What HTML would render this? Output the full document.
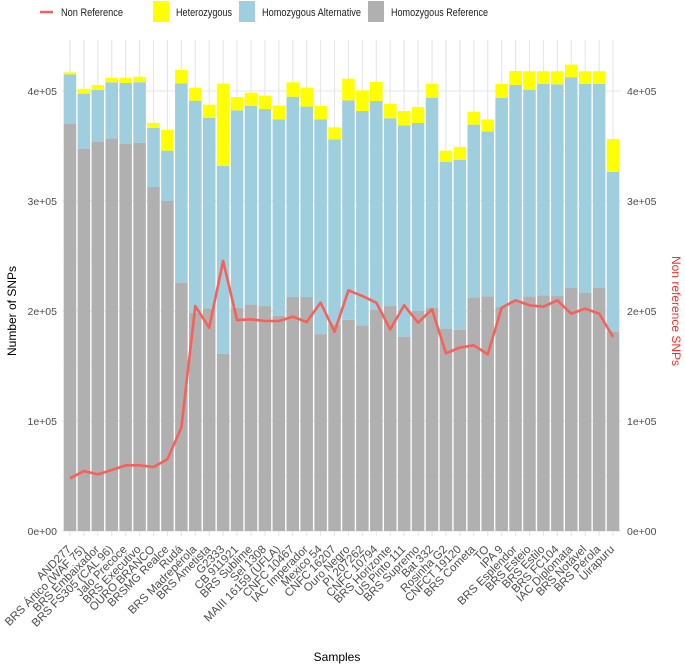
<!DOCTYPE html>
<html><head><meta charset="utf-8"><style>
body{margin:0;background:#fff;}
svg{display:block;font-family:"Liberation Sans",Arial,sans-serif;}
</style></head><body>
<svg id="chart" width="685" height="667">
<g id="legend">
 <line x1="40" y1="12" x2="53" y2="12" stroke="#F8605A" stroke-width="2.5"/>
 <text x="61" y="16" font-size="11" fill="#222" textLength="62" lengthAdjust="spacingAndGlyphs">Non Reference</text>
 <rect x="153" y="1" width="16" height="21" fill="#FFFF00"/>
 <text x="176" y="16" font-size="11" fill="#222" textLength="56" lengthAdjust="spacingAndGlyphs">Heterozygous</text>
 <rect x="239" y="1" width="16" height="21" fill="#9FCEDF"/>
 <text x="262" y="16" font-size="11" fill="#222" textLength="99" lengthAdjust="spacingAndGlyphs">Homozygous Alternative</text>
 <rect x="368" y="1" width="16" height="21" fill="#B0B0B0"/>
 <text x="391" y="16" font-size="11" fill="#222" textLength="97" lengthAdjust="spacingAndGlyphs">Homozygous Reference</text>
</g>
<g id="grid"></g>
<g id="bars"></g>
<g id="line"></g>
<g id="axes"></g>
<text transform="translate(16,311) rotate(-90)" text-anchor="middle" font-size="12" fill="#000">Number of SNPs</text>
<text transform="translate(672,311) rotate(90)" text-anchor="middle" font-size="12" fill="#F8302A">Non reference SNPs</text>
<text x="337" y="661" text-anchor="middle" font-size="12" fill="#000">Samples</text>
</svg>
<script>
const samples=["AND277","BRS Ártico (WAF 75)","BRS Embaixador","BRS FS305 (CAL 96)","Jalo Precoce","BRS Executivo","OURO BRANCO","BRSMG Realce","Rudá","BRS Madrepérola","BRS Ametista","G2333","CB 911921","BRS Sublime","Sel 1308","MAIII 16159 (UFLA)","CNFC 10467","IAC Imperador","Mexico 54","CNFC 16207","Ouro Negro","PI 207262","CNFC 10794","BRS Horizonte","US Pinto 111","BRS Supremo","Bat 332","Rosinha G2","CNFCT 19120","BRS Cometa","TO","IPA 9","BRS Esplendor","BRS Esteio","BRS Estilo","BRS FC104","IAC Diplomata","BRS Notável","BRS Pérola","Uirapuru"];
const homRef=[370000,347600,354000,356700,351800,353000,312700,300000,225800,198500,202400,161200,202700,206000,204500,195500,212700,212700,179000,187900,192100,187000,200900,204500,176700,200000,202700,184000,183000,212400,213300,203600,209700,213300,214200,213600,220900,216700,220900,180900];
const homAlt=[45000,50000,47000,51200,55500,55000,53700,45800,181000,192700,173100,170600,179700,180400,179100,178700,182100,173100,195200,168100,199400,194800,190000,170700,192100,170900,191200,151500,154300,157000,150000,190300,195800,187900,192200,192500,191500,189700,185500,145500];
const het=[2000,4400,4500,4100,4700,5000,4600,19000,12300,11800,12100,74900,12100,12100,12200,12500,13100,17200,12200,11000,19700,18800,17300,13000,13000,14600,12700,10300,11700,11800,10900,12500,12700,16800,11600,11900,11600,11600,11600,30000];
const nonRef=[47900,54500,51500,55500,59700,59700,58200,65200,94000,204500,184800,245500,191800,192400,190900,190900,194800,190000,207600,181200,218800,213600,207600,183300,205200,189400,201500,161500,166700,168800,160600,203000,209700,205200,203900,209700,197600,202100,197600,176400];
const yTicks=[0,100000,200000,300000,400000];
const yTickLabels=["0e+00","1e+05","2e+05","3e+05","4e+05"];

const X0=63,X1=620,Y0=531,YT=91,VMAX=400000;
const band=(X1-X0)/samples.length;
const xc=i=>X0+(i+0.5)*band;
const y=v=>Y0-(v/VMAX)*(Y0-YT);
const NS="http://www.w3.org/2000/svg";
function mk(tag,attrs,parent){const e=document.createElementNS(NS,tag);for(const k in attrs)e.setAttribute(k,attrs[k]);parent.appendChild(e);return e;}
const grid=document.getElementById('grid'),bars=document.getElementById('bars'),line=document.getElementById('line'),axes=document.getElementById('axes');
for(let v=50000;v<=VMAX+60000;v+=100000){const gy=y(v);if(gy<40)continue;const l=mk('line',{x1:X0-1,x2:X1+1,y1:gy,y2:gy,stroke:'#F2F2F2','stroke-width':0.6},grid);

}
yTicks.forEach((v,i)=>{const gy=y(v);
 const l=mk('line',{x1:X0-1,x2:X1+1,y1:gy,y2:gy,stroke:'#E6E6E6','stroke-width':1.1},grid);
 
 
 const t=mk('text',{x:57,y:gy+4,'text-anchor':'end','font-size':10.5,fill:'#4D4D4D'},axes);t.textContent=yTickLabels[i];
 
 
 const t2=mk('text',{x:627,y:gy+4,'font-size':10.5,fill:'#4D4D4D'},axes);t2.textContent=yTickLabels[i];
 
 
});
samples.forEach((s,i)=>{const cx=xc(i);
 const g=mk('line',{x1:cx,x2:cx,y1:40,y2:Y0+5,stroke:'#E6E6E6','stroke-width':1.1},grid);
 
 
 const bx=cx-band/2+0.7,bw=band-1.4;
 const r1=mk('rect',{x:bx,y:y(homRef[i]),width:bw,height:Y0-y(homRef[i]),fill:'#B0B0B0'},bars);
 
 
 const a=homRef[i]+homAlt[i];
 const r2=mk('rect',{x:bx,y:y(a),width:bw,height:y(homRef[i])-y(a),fill:'#9FCEDF'},bars);
 
 
 const h=a+het[i];
 const r3=mk('rect',{x:bx,y:y(h),width:bw,height:y(a)-y(h),fill:'#FFFF00'},bars);
 
 
 const t=mk('text',{transform:`translate(${cx+2},${Y0+19}) rotate(-45)`,'text-anchor':'end','font-size':11.5,fill:'#4D4D4D'},axes);t.textContent=s;
 
 
});
const pts=nonRef.map((v,i)=>xc(i)+','+y(v)).join(' ');
const pl=mk('polyline',{points:pts,fill:'none',stroke:'#F8605A','stroke-width':2.6,'stroke-linejoin':'round'},line);


</script>
</body></html>
